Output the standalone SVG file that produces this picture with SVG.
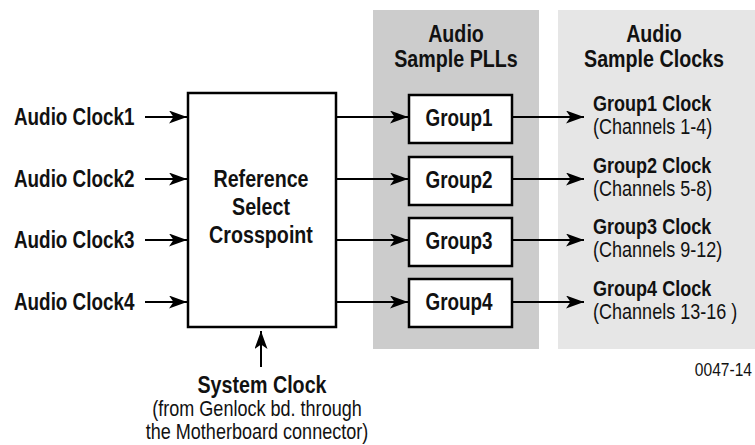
<svg xmlns="http://www.w3.org/2000/svg" width="755" height="445" viewBox="0 0 755 445">
<style>
text{font-family:"Liberation Sans",Arial,sans-serif;fill:#111}
.b{font-weight:bold}
.m{text-anchor:middle}
.e{text-anchor:end}
.box{fill:#fff;stroke:#000;stroke-width:2.5}
.c line{stroke:#000;stroke-width:2;marker-end:url(#ah)}
</style>
<defs>
<marker id="ah" markerUnits="userSpaceOnUse" markerWidth="19" markerHeight="14" refX="18" refY="6.5" orient="auto">
<path d="M0,0 L18,6.5 L0,13 L4.5,6.5 z" fill="#000"/>
</marker>
</defs>
<rect width="755" height="445" fill="#fff"/>
<g id="panel-plls">
<rect x="373" y="10" width="166" height="339" fill="#cccccc"/>
<text class="b m" font-size="24" transform="translate(456 42) scale(.82 1)">Audio</text>
<text class="b m" font-size="24" transform="translate(456 67) scale(.82 1)">Sample PLLs</text>
</g>
<g id="panel-clocks">
<rect x="558" y="10" width="197" height="339" fill="#e6e6e6"/>
<text class="b m" font-size="24" transform="translate(654 42) scale(.82 1)">Audio</text>
<text class="b m" font-size="24" transform="translate(654 67) scale(.82 1)">Sample Clocks</text>
</g>
<g id="inputs" font-size="23">
<text class="b" transform="translate(14 125) scale(.82 1)">Audio Clock1</text>
<text class="b" transform="translate(14 187) scale(.82 1)">Audio Clock2</text>
<text class="b" transform="translate(14 248) scale(.82 1)">Audio Clock3</text>
<text class="b" transform="translate(14 310) scale(.82 1)">Audio Clock4</text>
</g>
<g id="crosspoint">
<rect class="box" x="188" y="93" width="148" height="234"/>
<text class="b m" font-size="24" transform="translate(261 187) scale(.82 1)">Reference</text>
<text class="b m" font-size="24" transform="translate(261 215) scale(.82 1)">Select</text>
<text class="b m" font-size="24" transform="translate(261 243) scale(.82 1)">Crosspoint</text>
</g>
<g id="group1"><rect class="box" x="409" y="95" width="103" height="48"/><text class="b m" font-size="23" transform="translate(459 126) scale(.82 1)">Group1</text></g>
<g id="group2"><rect class="box" x="409" y="157" width="103" height="48"/><text class="b m" font-size="23" transform="translate(459 188) scale(.82 1)">Group2</text></g>
<g id="group3"><rect class="box" x="409" y="218" width="103" height="48"/><text class="b m" font-size="23" transform="translate(459 249) scale(.82 1)">Group3</text></g>
<g id="group4"><rect class="box" x="409" y="279" width="103" height="48"/><text class="b m" font-size="23" transform="translate(459 310) scale(.82 1)">Group4</text></g>
<g id="clock1"><text class="b" font-size="22" transform="translate(593 111) scale(.82 1)">Group1 Clock</text><text font-size="22" transform="translate(593 134) scale(.82 1)">(Channels 1-4)</text></g>
<g id="clock2"><text class="b" font-size="22" transform="translate(593 173) scale(.82 1)">Group2 Clock</text><text font-size="22" transform="translate(593 196) scale(.82 1)">(Channels 5-8)</text></g>
<g id="clock3"><text class="b" font-size="22" transform="translate(593 234) scale(.82 1)">Group3 Clock</text><text font-size="22" transform="translate(593 257) scale(.82 1)">(Channels 9-12)</text></g>
<g id="clock4"><text class="b" font-size="22" transform="translate(593 296) scale(.82 1)">Group4 Clock</text><text font-size="22" transform="translate(593 319) scale(.82 1)">(Channels 13-16 )</text></g>
<g id="system-clock">
<text class="b m" font-size="24" transform="translate(262 393) scale(.82 1)">System Clock</text>
<text class="m" font-size="22" transform="translate(257 416) scale(.82 1)">(from Genlock bd. through</text>
<text class="m" font-size="22" transform="translate(257 439) scale(.82 1)">the Motherboard connector)</text>
</g>
<g id="figure-id"><text class="e" font-size="19" transform="translate(752 376) scale(.82 1)">0047-14</text></g>
<g id="connectors" class="c">
<line x1="145" y1="117" x2="187" y2="117"/>
<line x1="145" y1="179" x2="187" y2="179"/>
<line x1="145" y1="240" x2="187" y2="240"/>
<line x1="145" y1="302" x2="187" y2="302"/>
<line x1="337" y1="117" x2="408" y2="117"/>
<line x1="337" y1="179" x2="408" y2="179"/>
<line x1="337" y1="240" x2="408" y2="240"/>
<line x1="337" y1="302" x2="408" y2="302"/>
<line x1="513" y1="117" x2="584" y2="117"/>
<line x1="513" y1="179" x2="584" y2="179"/>
<line x1="513" y1="240" x2="584" y2="240"/>
<line x1="513" y1="302" x2="584" y2="302"/>
<line x1="261" y1="367" x2="261" y2="331"/>
</g>
</svg>
